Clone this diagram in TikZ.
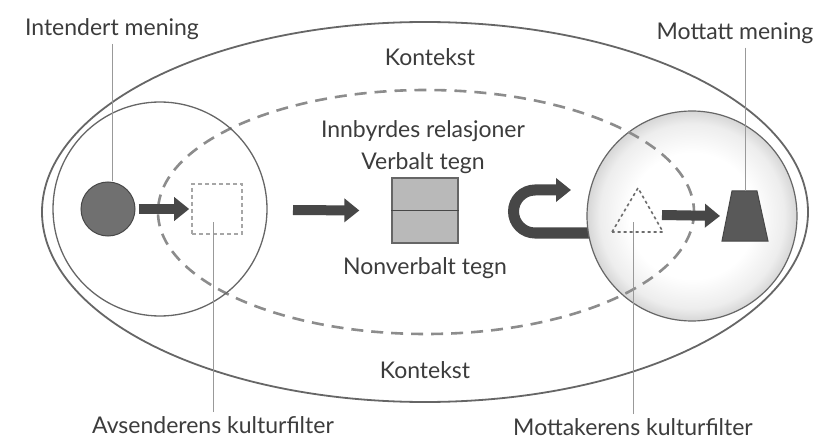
\documentclass[tikz,border=0pt]{standalone}
\usepackage{fontspec}
\setmainfont{Lato}
\usetikzlibrary{arrows.meta}
\definecolor{txt}{HTML}{3C3C3C}
\definecolor{arrowgray}{HTML}{474747}
\definecolor{linegray}{HTML}{666666}
\definecolor{dashgray}{HTML}{8C8C8C}
\pgfdeclareradialshading{sphereshade}{\pgfpoint{0bp}{0bp}}{%
  color(0bp)=(white); color(15bp)=(white); color(22bp)=(gray!14); color(25bp)=(gray!32); color(50bp)=(gray!32)}
\begin{document}
\begin{tikzpicture}[x=1pt,y=-1pt,
  lbl/.style={text=txt,font=\fontsize{23}{27}\selectfont,inner sep=0pt},
  leader/.style={draw=gray!80,line width=0.9pt},
  fatarrow/.style={draw=arrowgray,line width=10pt,-{Triangle[width=23pt,length=15pt]}},
]
\useasboundingbox[fill=white] (0,0) rectangle (820,441);
% outer context ellipse
\draw[linegray,line width=1.8pt] (425,212) ellipse [x radius=383, y radius=190];
% U-turn arrow
\coordinate (uin) at (589,233);
\coordinate (uout) at (571,190);
\draw[fatarrow,line width=11pt,line cap=butt] (uin) -- (535,233) arc[start angle=90,end angle=270,radius=21.5] -- (uout);
% receiver circle
\node[circle,minimum size=210pt,inner sep=0pt] (recv) at (692,216) {};
\shade[shading=sphereshade] (recv.center) circle (105pt);
\draw[linegray,line width=1.2pt] (recv.center) circle (105pt);
% dashed relations ellipse
\draw[dashgray,line width=2.6pt,dash pattern=on 12pt off 8pt] (426,212) ellipse [x radius=268, y radius=122];
% sender circle
\node[circle,draw=linegray,line width=1.3pt,minimum size=214pt,inner sep=0pt] (send) at (160,209) {};
% intended meaning
\node[circle,fill=gray!75!black!90,draw=arrowgray,line width=1pt,minimum size=54pt,inner sep=0pt] (dot) at (108,209) {};
% sender filter square
\node[draw=gray!70,dash pattern=on 4pt off 3pt,line width=1.6pt,minimum size=50pt,inner sep=0pt] (filt1) at (217,209) {};
% signs box
\node[draw=linegray,fill=gray!55,line width=1.3pt,minimum width=66pt,minimum height=65pt,inner sep=0pt] (box) at (425,210.5) {};
\draw[arrowgray,line width=1.4pt] (box.west) -- (box.east);
% receiver filter triangle
\coordinate (t1) at (612,232);
\coordinate (t2) at (638,188);
\coordinate (t3) at (663,232);
\draw[gray!85!black,line width=1.6pt,dash pattern=on 3pt off 3pt] (t1) -- (t2) -- (t3) -- cycle;
\coordinate (tri) at (636,222);
% received meaning trapezium
\coordinate (q1) at (722,241);
\coordinate (q2) at (732,191);
\coordinate (q3) at (757,191);
\coordinate (q4) at (768,241);
\coordinate (trapw) at (727,216);
\coordinate (trapn) at (745,191);
\filldraw[fill=gray!70!black,draw=arrowgray,line width=1pt] (q1) -- (q2) -- (q3) -- (q4) -- cycle;
% arrows
\coordinate (a2s) at (293,210);
\coordinate (a3s) at (662,215);
\draw[fatarrow] ([xshift=3pt]dot.east) -- ([xshift=-2pt]filt1.west);
\draw[fatarrow] (a2s) -- ([xshift=-32pt]box.west);
\draw[fatarrow] (a3s) -- ([xshift=-7pt]trapw);
% labels
\node[lbl] (kt) at (430,57) {Kontekst};
\node[lbl] (kb) at (425,370) {Kontekst};
\node[lbl] (rel) at (423,131) {Innbyrdes relasjoner};
\node[lbl] (verb) at (423,163) {Verbalt tegn};
\node[lbl] (nonv) at (425,268) {Nonverbalt tegn};
\node[lbl] (intend) at (112,29) {Intendert mening};
\node[lbl] (mott) at (735,33) {Mottatt mening};
\node[lbl] (avs) at (213,425) {Avsenderens kulturfilter};
\node[lbl] (mfil) at (633,427) {Mottakerens kulturfilter};
% leaders
\draw[leader] ([yshift=-4pt]intend.south) -- (intend.south |- dot.north);
\draw[leader] ([yshift=-4pt]mott.south -| trapn) -- (trapn);
\draw[leader] ([yshift=4pt]avs.north) -- ([yshift=-13pt]avs.north |- filt1.center);
\draw[leader] ([yshift=4pt]mfil.north) -- (mfil.north |- tri);
\end{tikzpicture}
\end{document}
